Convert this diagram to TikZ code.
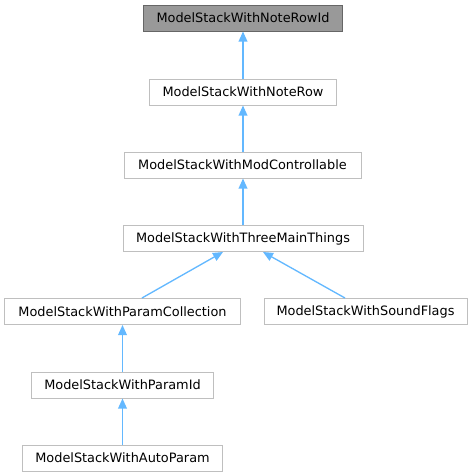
\documentclass[tikz,border=0pt]{standalone}
\usepackage{fontspec}
\setmainfont{DejaVu Sans}
\usepackage{tikz}
\usetikzlibrary{arrows.meta,calc}
\definecolor{edgecol}{RGB}{99,184,255}
\definecolor{boxcol}{RGB}{191,191,191}
\definecolor{topfill}{RGB}{153,153,153}
\definecolor{topline}{RGB}{102,102,102}

\tikzset{
  cls/.style={draw=boxcol,fill=white,line width=0.75bp,minimum height=19.5bp,
    inner xsep=0pt,inner ysep=0pt,font=\fontsize{9.7}{12}\selectfont},
  topcls/.style={cls,draw=topline,fill=topfill},
  inh/.style={edgecol,line width=1bp,<-,>={Triangle[length=7.5bp,width=6.5bp]}}
}

\begin{document}
\begin{tikzpicture}[x=0.75bp,y=-0.75bp]
  \useasboundingbox (0,0) rectangle (472,476);
  % class boxes
  \node[topcls,minimum width=149.25bp] (nrid) at (243,18)  {ModelStackWithNoteRowId};
  \node[cls,minimum width=140.25bp]    (nr)   at (243,92)  {ModelStackWithNoteRow};
  \node[cls,minimum width=177.75bp]    (mc)   at (242.5,165) {ModelStackWithModControllable};
  \node[cls,minimum width=180bp]       (tmt)  at (243,238.5) {ModelStackWithThreeMainThings};
  \node[cls,minimum width=176.25bp]    (pc)   at (122.5,311.5) {ModelStackWithParamCollection};
  \node[cls,minimum width=152.25bp]    (sf)   at (365.5,311.5) {ModelStackWithSoundFlags};
  \node[cls,minimum width=135.75bp]    (pid)  at (122.5,385) {ModelStackWithParamId};
  \node[cls,minimum width=149.25bp]    (ap)   at (122.5,458) {ModelStackWithAutoParam};
  % inheritance
  \draw[inh] (nrid) -- (nr);
  \draw[inh] (nr.south) -- (mc.north -| nr);
  \draw[inh] (mc.south -| tmt) -- (tmt.north);
  \draw[inh] ([xshift=-15bp]tmt.south) -- ([xshift=14.6bp]pc.north);
  \draw[inh] ([xshift=15bp]tmt.south) -- ([xshift=-15.4bp]sf.north);
  \draw[inh] (pc) -- (pid);
  \draw[inh] (pid) -- (ap);
\end{tikzpicture}
\end{document}
